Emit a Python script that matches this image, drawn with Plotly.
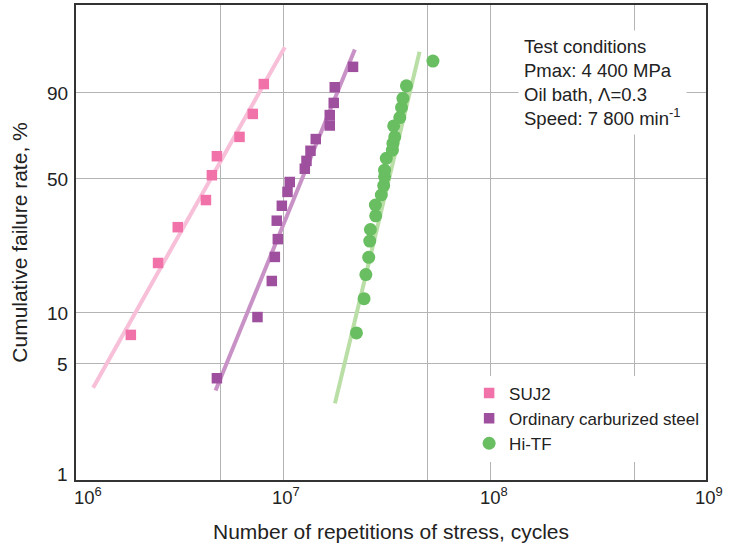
import numpy as np
import plotly.graph_objects as go

# ---- data (cycles, cumulative failure rate %) ----
suj2_cycles = [1.84e6, 2.49e6, 3.10e6, 4.24e6, 4.53e6, 4.79e6, 6.16e6, 7.14e6, 8.07e6]
suj2_rate = [7.4, 19.0, 29.4, 39.9, 51.4, 61.0, 70.9, 81.8, 92.5]

carb_cycles = [4.79e6, 7.52e6, 8.82e6, 9.12e6, 9.43e6, 9.32e6, 9.86e6, 1.05e7, 1.077e7,
               1.273e7, 1.297e7, 1.356e7, 1.438e7, 1.68e7, 1.68e7, 1.756e7, 1.776e7, 2.176e7]
carb_rate = [4.1, 9.4, 15.1, 20.5, 25.5, 31.7, 37.5, 43.5, 48.1,
             54.6, 58.6, 63.8, 69.8, 76.5, 81.3, 86.3, 91.6, 96.3]

hitf_cycles = [2.26e7, 2.46e7, 2.51e7, 2.59e7, 2.62e7, 2.64e7, 2.80e7, 2.79e7, 2.98e7, 3.06e7, 3.09e7,
               3.09e7, 3.15e7, 3.37e7, 3.39e7, 3.46e7, 3.42e7, 3.66e7, 3.73e7, 3.79e7, 3.94e7, 5.29e7]
hitf_rate = [7.6, 12.0, 16.4, 20.4, 24.9, 28.6, 33.5, 37.8, 42.1, 46.4, 50.6,
             53.9, 59.9, 64.1, 67.6, 70.9, 76.3, 80.2, 84.5, 88.0, 92.0, 97.2]

# fitted Weibull lines (end points)
suj2_fit_cycles = [1.21e6, 1.019e7]
suj2_fit_rate = [3.6, 98.7]
carb_fit_cycles = [4.72e6, 2.22e7]
carb_fit_rate = [3.46, 98.5]
hitf_fit_cycles = [1.78e7, 4.56e7]
hitf_fit_rate = [2.9, 98.3]

y_tick_labels = [1, 5, 10, 50, 90]
x_grid_vals = [5e6, 1e7, 5e7, 1e8, 5e8]
x_label_exponents = [6, 7, 8, 9]


def weibull(p):
    p = np.asarray(p, dtype=float) / 100.0
    return np.log(-np.log(1.0 - p))


PINK, PINK_L = "#F072A9", "#F7BFD8"
PURP, PURP_L = "#9E4F9E", "#C892C6"
GREEN, GREEN_L = "#68BE60", "#B9DFA6"
TXT = "#222222"

fig = go.Figure()

for xs, ys, col in [(suj2_fit_cycles, suj2_fit_rate, PINK_L),
                    (carb_fit_cycles, carb_fit_rate, PURP_L),
                    (hitf_fit_cycles, hitf_fit_rate, GREEN_L)]:
    fig.add_trace(go.Scatter(x=xs, y=weibull(ys), mode="lines",
                             line=dict(color=col, width=4), showlegend=False,
                             hoverinfo="skip"))

fig.add_trace(go.Scatter(x=suj2_cycles, y=weibull(suj2_rate), mode="markers", name="SUJ2",
                         marker=dict(symbol="square", size=10.5, color=PINK)))
fig.add_trace(go.Scatter(x=carb_cycles, y=weibull(carb_rate), mode="markers",
                         name="Ordinary carburized steel",
                         marker=dict(symbol="square", size=10.5, color=PURP)))
fig.add_trace(go.Scatter(x=hitf_cycles, y=weibull(hitf_rate), mode="markers", name="Hi-TF",
                         marker=dict(symbol="circle", size=13, color=GREEN)))

FONT = "Liberation Sans, Arial, sans-serif"
GRID = "#B4B4B4"

annotations = []
# decade labels on the x axis
label_shift = [11.5, 3, 3.7, 12]
for e, sh in zip(x_label_exponents, label_shift):
    annotations.append(dict(xref="x", yref="paper", x=e, y=0, yshift=-16, xshift=sh,
                            xanchor="center", yanchor="middle", showarrow=False,
                            text=f"10<sup>{e}</sup>",
                            font=dict(size=18.5, family=FONT, color=TXT)))
# percentage labels on the y axis
for v, wv in zip(y_tick_labels, weibull(y_tick_labels)):
    annotations.append(dict(xref="paper", yref="y", x=0, y=float(wv), xshift=-6,
                            yshift=6 if v == 1 else -1,
                            xanchor="right", yanchor="middle", showarrow=False,
                            text=str(v), font=dict(size=19, family=FONT, color=TXT)))

annotations.append(dict(xref="paper", yref="paper", x=0.702, y=0.947,
                        xanchor="left", yanchor="top", align="left", showarrow=False,
                        bgcolor="white", borderpad=5,
                        font=dict(size=18.5, family=FONT, color=TXT),
                        text="Test conditions<br>Pmax: 4 400 MPa<br>Oil bath, Λ=0.3<br>"
                             "Speed: 7 800 min<sup>-1</sup>"))

fig.update_layout(
    width=738, height=545, autosize=False,
    margin=dict(l=76, r=32, t=5, b=65),
    paper_bgcolor="white", plot_bgcolor="white",
    font=dict(family=FONT, color=TXT),
    xaxis=dict(type="log", range=[6, 9.042], tickvals=x_grid_vals, showticklabels=False,
               showgrid=True, gridcolor=GRID, gridwidth=1.3, zeroline=False,
               showline=True, mirror=True, linecolor="#333333", linewidth=2,
               ticks="",
               title=dict(text="Number of repetitions of stress, cycles",
                          font=dict(size=21, family=FONT, color=TXT), standoff=43),
               automargin=False),
    yaxis=dict(range=[float(weibull([1])[0]), 2.06], tickvals=weibull(y_tick_labels),
               showticklabels=False,
               showgrid=True, gridcolor=GRID, gridwidth=1.3, zeroline=False,
               showline=True, mirror=True, linecolor="#333333", linewidth=2,
               ticks="",
               title=dict(text="Cumulative failure rate, %",
                          font=dict(size=21, family=FONT, color=TXT), standoff=41),
               automargin=False),
    legend=dict(x=0.624, y=0.22, xanchor="left", yanchor="top", bgcolor="white",
                font=dict(size=17, family=FONT, color=TXT), borderwidth=0,
                tracegroupgap=0),
    annotations=annotations,
)

fig.write_html("out.html", config={"displayModeBar": False},
               post_script="document.body.style.margin='0';")
